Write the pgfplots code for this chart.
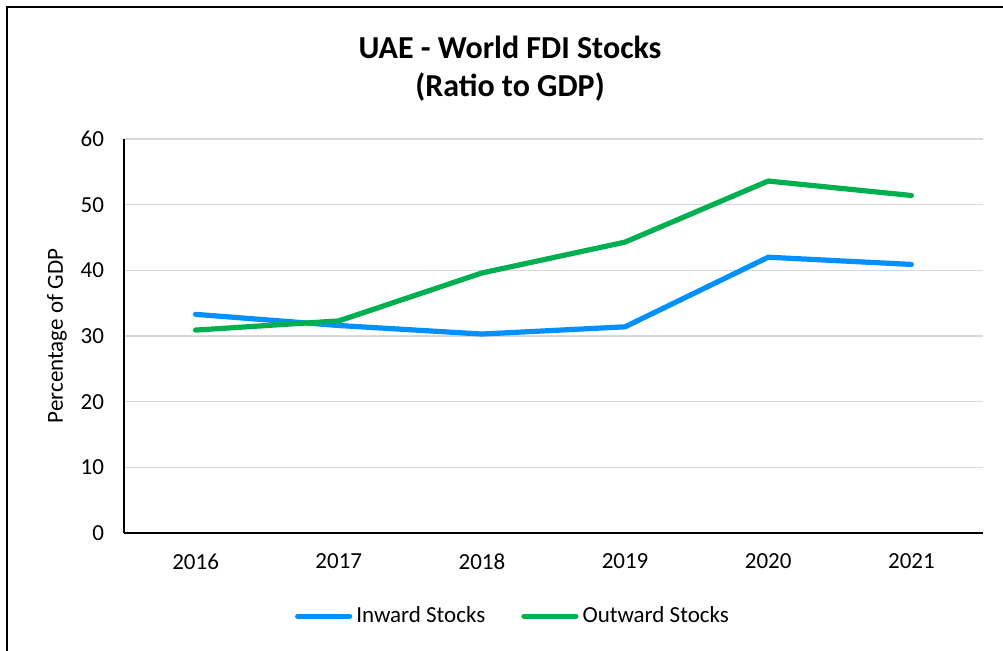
\documentclass[border=0pt]{standalone}
\usepackage{pgfplots}
\pgfplotsset{compat=1.18}
\usepackage{fontspec}
\setmainfont{Carlito}
\definecolor{inward}{RGB}{0,144,255}
\definecolor{outward}{RGB}{0,176,80}
\definecolor{gridc}{RGB}{217,217,217}
\begin{document}
\begin{tikzpicture}
\useasboundingbox (0,0) rectangle (501.5pt,325pt);
\draw[black,line width=0.8pt] (3.6pt,-3pt) rectangle (505pt,321.6pt);
\node[font=\bfseries\fontsize{16}{19}\selectfont,align=center] at (255pt,290.5pt) {UAE - World FDI Stocks\\(Ratio to GDP)};
\begin{axis}[
  at={(62pt,58.5pt)}, anchor=south west,
  scale only axis, width=429.5pt, height=197pt,
  xmin=-0.5, xmax=5.5, ymin=0, ymax=60,
  xtick={0,1,2,3,4,5},
  xticklabels={2016,2017,2018,2019,2020,2021},
  ytick={0,10,...,60},
  tick style={draw=none},
  axis x line*=bottom, axis y line*=left,
  axis line style={black,line width=0.8pt,-},
  ymajorgrids, grid style={gridc,line width=0.7pt},
  tick label style={font=\fontsize{11.5}{13}\selectfont},
  /pgf/number format/assume math mode=true,
  xticklabel style={yshift=-7pt},
  yticklabel style={xshift=-6.5pt},
  ylabel={Percentage of GDP},
  ylabel style={font=\fontsize{11.5}{13}\selectfont, at={(axis description cs:-0.078,0.5)}, anchor=center},
  legend columns=2,
  legend style={draw=none, at={(0.454,-0.211)}, anchor=center, font=\fontsize{11.5}{13}\selectfont,
    /tikz/every even column/.append style={column sep=16pt}},
  legend image code/.code={\draw[#1,line cap=round] (0pt,0pt) -- (26pt,0pt);},
  legend cell align=left,
]
\addplot[inward, line width=2.6pt, line join=round, line cap=round] coordinates {(0,33.3) (1,31.6) (2,30.3) (3,31.4) (4,42.0) (5,40.9)};
\addlegendentry{Inward Stocks}
\addplot[outward, line width=2.6pt, line join=round, line cap=round] coordinates {(0,30.9) (1,32.3) (2,39.6) (3,44.3) (4,53.6) (5,51.4)};
\addlegendentry{Outward Stocks}
\end{axis}
\end{tikzpicture}
\end{document}
